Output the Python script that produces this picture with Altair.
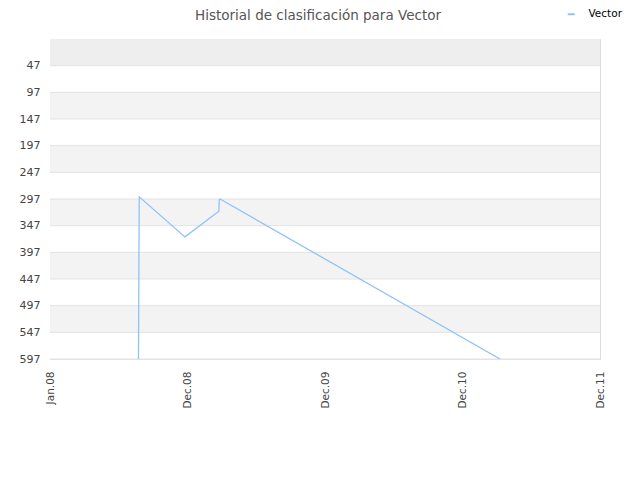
import altair as alt
import pandas as pd

# data
dates = ["2008-08-18", "2008-08-20", "2008-12-17", "2009-03-15", "2009-03-16",
         "2009-03-18", "2011-03-16"]
ranks = [597, 293, 368, 320, 299, 297, 597]
series = ["Vector"] * len(dates)

y_ticks = [47, 97, 147, 197, 247, 297, 347, 397, 447, 497, 547, 597]
x_tick_dates = [(2008, 1, 1), (2008, 12, 23), (2009, 12, 16), (2010, 12, 8), (2011, 12, 1)]

df = pd.DataFrame({"date": dates, "rank": ranks, "series": series})

# alternating background bands between y ticks
band_lo = [-3] + y_ticks[:-1]
band_hi = y_ticks
band_fill = ["#eeeeee"] + ["#ffffff" if i % 2 == 0 else "#f3f3f3" for i in range(len(y_ticks) - 1)]
bands = pd.DataFrame({"lo": band_lo, "hi": band_hi, "fill": band_fill})

yscale = alt.Scale(domain=[-3, 597], reverse=True, nice=False, zero=False)
xscale = alt.Scale(type="utc", domain=[alt.DateTime(year=2008, month=1, date=1, utc=True),
                                       alt.DateTime(year=2011, month=12, date=1, utc=True)])

yaxis = alt.Axis(values=y_ticks, labelFontSize=11, labelColor="#444", labelFont="DejaVu Sans",
                 domain=False, ticks=False, grid=True, gridColor="#e2e2e2", labelPadding=10,
                 zindex=0)

band_layer = alt.Chart(bands).mark_rect().encode(
    x=alt.value(0), x2=alt.value(550),
    y=alt.Y("lo:Q", scale=yscale, axis=yaxis, title=None),
    y2="hi:Q",
    fill=alt.Fill("fill:N", scale=None),
)

grid_layer = alt.Chart(pd.DataFrame({"tick": y_ticks})).mark_rule(color="#e2e2e2", strokeWidth=1).encode(
    y=alt.Y("tick:Q", scale=yscale, axis=yaxis, title=None),
)

line_layer = alt.Chart(df).mark_line(strokeWidth=1.3, clip=True).encode(
    x=alt.X("date:T", scale=xscale, title=None,
            axis=alt.Axis(values=[alt.DateTime(year=y, month=m, date=d, utc=True) for y, m, d in x_tick_dates],
                          format="%b.%y", labelAngle=-90, labelFontSize=10.5, labelColor="#444",
                          labelFont="DejaVu Sans", domain=False, ticks=False, grid=False,
                          labelPadding=12, labelAlign="right", labelBaseline="middle")),
    y=alt.Y("rank:Q", scale=yscale, title=None, axis=yaxis),
    color=alt.Color("series:N", scale=alt.Scale(domain=["Vector"], range=["#8fc3f7"]),
                    legend=alt.Legend(title=None, orient="none", legendX=516, legendY=-30,
                                      symbolType="stroke", symbolSize=50, symbolStrokeWidth=2,
                                      labelOffset=12, labelFontSize=10.5, labelFont="DejaVu Sans",
                                      labelColor="#000")),
)

chart = alt.layer(band_layer, grid_layer, line_layer).properties(
    width=550, height=320,
    padding={"left": 42, "top": 31, "right": 32, "bottom": 100},
    autosize=alt.AutoSizeParams(type="none"),
    title=alt.TitleParams("Historial de clasificación para Vector", anchor="middle", fontSize=13.5,
                          font="DejaVu Sans", fontWeight="normal", color="#555",
                          frame="group", offset=0, dy=13, dx=-7),
).configure_view(stroke="#dddddd", strokeWidth=1)

chart.save("out.html", embed_options={"renderer": "svg", "actions": False})
